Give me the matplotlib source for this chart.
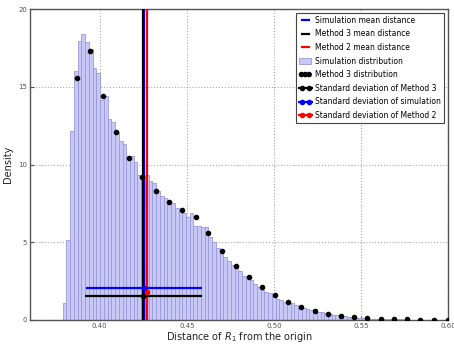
import matplotlib
matplotlib.use("Agg")
import matplotlib.pyplot as plt
import numpy as np

# ---- data ----
bin_start = 0.3788
bin_width = 0.002145
sim_density = [
    1.07, 5.14, 12.17, 16.03, 17.92, 18.41, 17.86, 17.41, 16.19, 15.88,
    14.15, 14.43, 12.93, 12.71, 12.07, 11.49, 11.32, 10.55, 10.55, 10.14,
    9.32, 9.32, 9.30, 8.94, 8.79, 8.30, 7.97, 7.82, 7.63, 7.50,
    7.20, 7.03, 6.88, 6.62, 6.86, 6.05, 6.05, 6.00, 5.95, 5.36,
    5.04, 4.61, 4.29, 4.07, 3.79, 3.54, 3.43, 3.17, 2.83, 2.72,
    2.57, 2.29, 2.14, 1.93, 1.82, 1.71, 1.50, 1.37, 1.29, 1.18,
    1.10, 1.07, 0.95, 0.86, 0.80, 0.69, 0.64, 0.70, 0.50, 0.53,
    0.42, 0.37, 0.30, 0.35, 0.26, 0.26, 0.22, 0.20, 0.15, 0.14,
    0.11, 0.10, 0.09, 0.08, 0.07, 0.06, 0.06, 0.05, 0.05, 0.04,
    0.04, 0.03, 0.03, 0.03, 0.02, 0.02, 0.02, 0.02, 0.01, 0.01,
    0.01, 0.01, 0.01,
]

m3_x = [0.3867, 0.3944, 0.4019, 0.4094, 0.4171, 0.4244, 0.4324, 0.4399,
        0.4474, 0.4552, 0.4624, 0.4701, 0.4780, 0.4855, 0.4932, 0.5005,
        0.5082, 0.5157, 0.5235, 0.5310, 0.5387, 0.5462, 0.5537, 0.5614,
        0.5689, 0.5764, 0.5840, 0.5918, 0.5999]
m3_y = [15.58, 17.30, 14.40, 12.10, 10.40, 9.18, 8.28, 7.61,
        7.07, 6.62, 5.57, 4.42, 3.47, 2.74, 2.12, 1.61,
        1.14, 0.84, 0.58, 0.41, 0.26, 0.17, 0.11, 0.07,
        0.05, 0.04, 0.03, 0.02, 0.01]

sim_mean = 0.4257
m3_mean = 0.4250
m2_mean = 0.4270

sim_std = 0.0333
m3_std = 0.0335
m2_std = 0.0008

sim_err_y = 2.06
m3_err_y = 1.54
m2_err_y = 1.78

xticks = [0.40, 0.45, 0.50, 0.55, 0.60]
yticks = [0, 5, 10, 15, 20]

# ---- figure ----
fig = plt.figure(figsize=(4.54, 3.46), dpi=100)
ax = fig.add_axes([30/454, 1-320/346, (448-30)/454, (320-9)/346])

edges = bin_start + bin_width * np.arange(len(sim_density))
ax.bar(edges, sim_density, width=bin_width, align='edge',
       facecolor='#c8c8f7', edgecolor='#9a9ada', linewidth=0.6,
       label='Simulation distribution', zorder=1)

ax.axvline(sim_mean, color='blue', lw=1.6, label='Simulation mean distance', zorder=3)
ax.axvline(m3_mean, color='black', lw=1.6, label='Method 3 mean distance', zorder=3)
ax.axvline(m2_mean, color='red', lw=1.6, label='Method 2 mean distance', zorder=3)

ax.scatter(m3_x, m3_y, s=9, color='black', label='Method 3 distribution', zorder=4)

ax.errorbar(m3_mean, m3_err_y, xerr=m3_std, color='black', fmt='o', ms=3,
            lw=1.6, capsize=0, label='Standard deviation of Method 3', zorder=5)
ax.errorbar(sim_mean, sim_err_y, xerr=sim_std, color='blue', fmt='o', ms=3,
            lw=1.6, capsize=0, label='Standard deviation of simulation', zorder=5)
ax.errorbar(m2_mean, m2_err_y, xerr=m2_std, color='red', fmt='o', ms=3,
            lw=1.6, capsize=0, label='Standard deviation of Method 2', zorder=5)

ax.set_xlim(0.36, 0.60)
ax.set_ylim(0, 20)
ax.set_xticks(xticks)
ax.set_xticklabels([f"{t:.2f}" for t in xticks])
ax.set_yticks(yticks)
ax.tick_params(direction='in', labelsize=5, labelcolor='#555555', length=3,
               color='#555555', pad=2)
ax.grid(True, linestyle=':', color='#aaaaaa', lw=0.8)
ax.set_axisbelow(True)
for s in ax.spines.values():
    s.set_color('#555555')
    s.set_linewidth(1.0)

ax.set_xlabel('Distance of $R_1$ from the origin', fontsize=7, color='#222222', labelpad=1)
ax.set_ylabel('Density', fontsize=7, color='#222222', labelpad=4)

handles, labels = ax.get_legend_handles_labels()
order = ['Simulation mean distance', 'Method 3 mean distance', 'Method 2 mean distance',
         'Simulation distribution', 'Method 3 distribution',
         'Standard deviation of Method 3', 'Standard deviation of simulation',
         'Standard deviation of Method 2']
hmap = dict(zip(labels, handles))
leg = ax.legend([hmap[l] for l in order], order, loc='upper right', fontsize=5.5,
                frameon=True, fancybox=False, edgecolor='#444444', framealpha=1,
                numpoints=2, scatterpoints=3, scatteryoffsets=[0.5],
                handlelength=1.6, handletextpad=0.5,
                borderaxespad=0.5, labelspacing=0.6, borderpad=0.4)
leg.get_frame().set_linewidth(0.8)

fig.savefig('out.png', dpi=100)
